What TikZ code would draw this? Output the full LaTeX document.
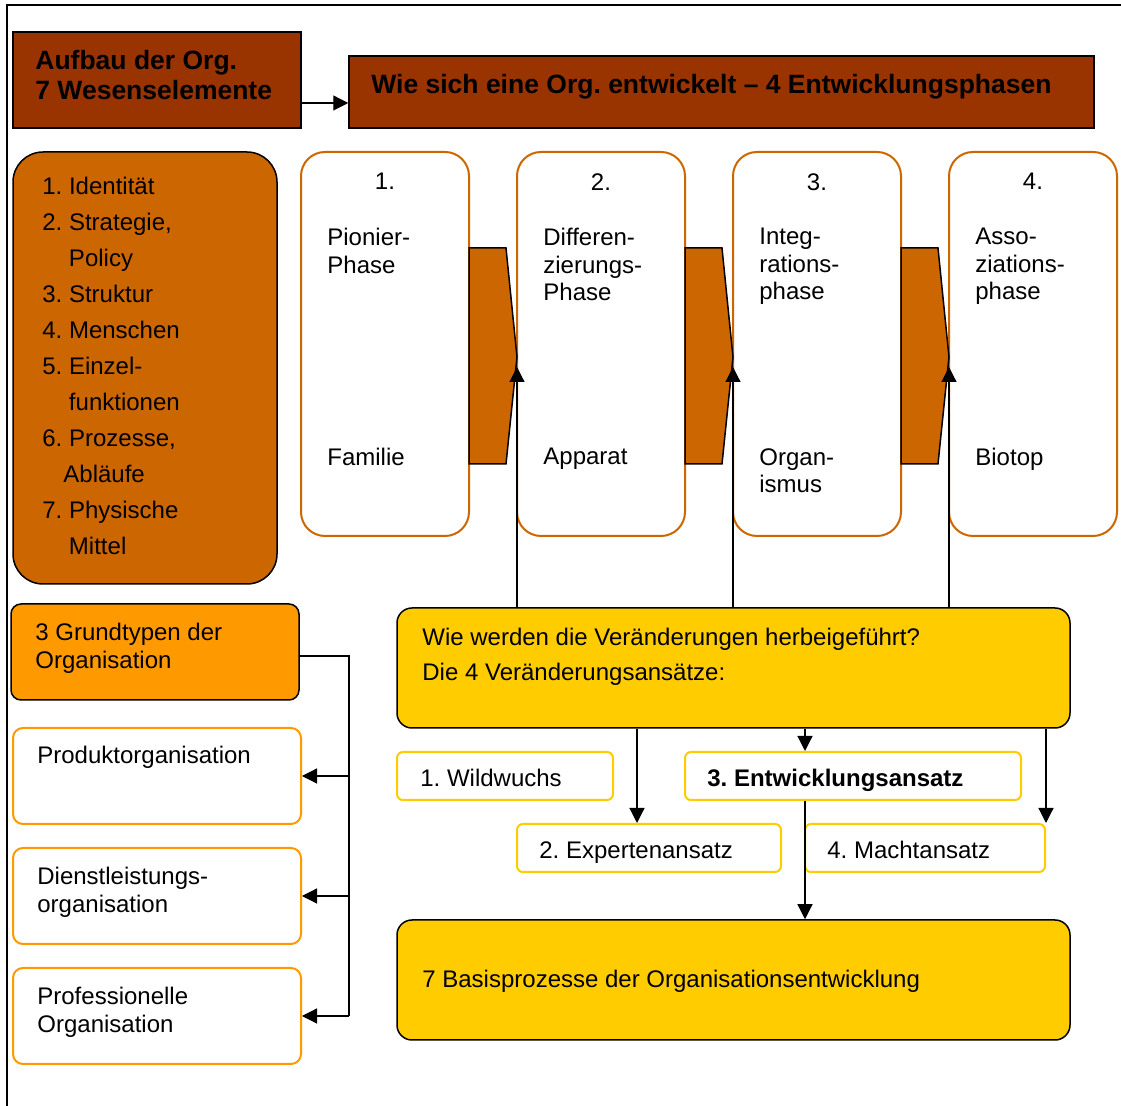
\documentclass[tikz,border=0pt]{standalone}
\usepackage{fontspec}
\setmainfont{Liberation Sans}
\usetikzlibrary{arrows.meta}
\definecolor{darkbrown}{HTML}{993300}
\definecolor{rust}{HTML}{CC6600}
\definecolor{gold}{HTML}{FFCC00}
\definecolor{amber}{HTML}{FF9900}
\newcommand\pone{301}
\newcommand\ptwo{517}
\newcommand\pthree{733}
\newcommand\pfour{949}
\frenchspacing

\begin{document}
\begin{tikzpicture}[x=0.5pt, y=-0.5pt,
    head/.style={draw=black, line width=0.75pt, fill=darkbrown, inner sep=0},
    elements/.style={draw=black, line width=0.75pt, fill=rust, rounded corners=15pt, inner sep=0},
    phase/.style={draw=rust, line width=1pt, fill=white, rounded corners=12pt, inner sep=0, minimum width=84pt, minimum height=192pt},
    chevron/.style={draw=black, line width=0.75pt, fill=rust},
    change/.style={draw=black, line width=0.75pt, fill=gold, rounded corners=7.5pt, inner sep=0, minimum width=336.5pt, minimum height=60pt},
    approach/.style={draw=gold, line width=1pt, fill=white, rounded corners=3pt, inner sep=0, minimum height=24pt},
    grundtyp/.style={draw=black, line width=0.75pt, fill=amber, rounded corners=5pt, inner sep=0, minimum width=144pt, minimum height=48pt},
    orgtype/.style={draw=amber, line width=1pt, fill=white, rounded corners=5pt, inner sep=0, minimum width=144pt, minimum height=48pt},
    txt/.style={anchor=north west, inner sep=0, align=left, font=\fontsize{12}{13.7}\selectfont},
    bigtxt/.style={anchor=north west, inner sep=0, align=left, font=\fontsize{13.25}{15}\selectfont\bfseries},
    conn/.style={draw=black, line width=0.6pt},
    arr/.style={conn, -{Triangle[length=7.5pt, width=7.5pt]}}]

    \useasboundingbox (0,0) rectangle (1121,1106);
    \draw[line width=1pt] (7,1106) -- (7,5) -- (1121,5);

    % Aufbau
    \node at (157, 80) [head, minimum width=144pt, minimum height=48pt] (aufbau) {};
    \node at (35, 49.5) [bigtxt] (aufbau_t) {Aufbau der Org.\\7 Wesenselemente};
    \node at (721.5, 92) [head, minimum width=372.5pt, minimum height=36pt] (entw) {};
    \node at (371, 73.5) [bigtxt] (entw_t) {Wie sich eine Org. entwickelt – 4 Entwicklungsphasen};

    \coordinate (ab) at (301, 103);
    \draw[arr] (ab) -- (ab -| entw.west);

    \node at (145, 368) [elements, minimum width=132pt, minimum height=216pt] (wesen) {};
    \node at (42, 177) [txt, font=\fontsize{12}{18}\selectfont] (wesen_t) {1. Identität\\2. Strategie,\\\hspace{13.3pt}Policy\\3. Struktur\\4. Menschen\\5. Einzel-\\\hspace{13.3pt}funktionen\\6. Prozesse,\\\hspace{10.5pt}Abläufe\\7. Physische\\\hspace{13.3pt}Mittel};

    % Phasen
    \node at (\pone + 84, 344) [phase] (ph1) {};
    \node at (\ptwo + 84, 344) [phase] (ph2) {};
    \node at (\pthree + 84, 344) [phase] (ph3) {};
    \node at (\pfour + 84, 344) [phase] (ph4) {};

    \node at (\pone + 84, 173) [txt, anchor=north] (n1) {1.};
    \node at (\ptwo + 84, 173) [txt, anchor=north] (n2) {2.};
    \node at (\pthree + 84, 173) [txt, anchor=north] (n3) {3.};
    \node at (\pfour + 84, 173) [txt, anchor=north] (n4) {4.};

    \node at (\pone + 26, 228) [txt] (p1) {Pionier-\\Phase};
    \node at (\ptwo + 26, 228) [txt] (p2) {Differen-\\zierungs-\\Phase};
    \node at (\pthree + 26, 228) [txt] (p3) {Integ-\\rations-\\phase};
    \node at (\pfour + 26, 228) [txt] (p4) {Asso-\\ziations-\\phase};

    \node at (\pone + 26, 448) [txt] (b1) {Familie};
    \node at (\ptwo + 26, 448) [txt] (b2) {Apparat};
    \node at (\pthree + 26, 448) [txt] (b3) {Organ-\\ismus};
    \node at (\pfour + 26, 448) [txt] (b4) {Biotop};

    \draw[chevron] (\pone + 168, 248) -- (\pone + 205, 248) -- (\ptwo, 357) -- (\pone + 205, 464) -- (\pone + 168, 464) -- cycle;
    \draw[chevron] (\ptwo + 168, 248) -- (\ptwo + 205, 248) -- (\pthree, 357) -- (\ptwo + 205, 464) -- (\ptwo + 168, 464) -- cycle;
    \draw[chevron] (\pthree + 168, 248) -- (\pthree + 205, 248) -- (\pfour, 357) -- (\pthree + 205, 464) -- (\pthree + 168, 464) -- cycle;

    % Veraenderungsansaetze
    \node at (733.5, 668) [change] (wie) {};
    \node at (422, 628) [txt, font=\fontsize{12}{17.5}\selectfont] (wie_t) {Wie werden die Veränderungen herbeigeführt?\\Die 4 Veränderungsansätze:};

    \coordinate (t2) at (\ptwo, 367);
    \coordinate (t3) at (\pthree, 367);
    \coordinate (t4) at (\pfour, 367);
    \draw[arr] (wie.north -| t2) -- (t2);
    \draw[arr] (wie.north -| t3) -- (t3);
    \draw[arr] (wie.north -| t4) -- (t4);

    \node at (505, 776) [approach, minimum width=108pt] (wild) {};
    \node at (853, 776) [approach, minimum width=168pt] (entwa) {};
    \node at (649, 848) [approach, minimum width=132pt] (exp) {};
    \node at (925, 848) [approach, minimum width=120pt] (macht) {};
    \node at (420, 769) [txt] (wild_t) {1. Wildwuchs};
    \node at (707, 769) [txt, font=\fontsize{12}{13.7}\selectfont\bfseries] (entwa_t) {3. Entwicklungsansatz};
    \node at (539, 841) [txt] (exp_t) {2. Expertenansatz};
    \node at (827, 841) [txt] (macht_t) {4. Machtansatz};

    \node at (733.5, 980) [change] (basis) {};
    \node at (422, 970) [txt] (basis_t) {7 Basisprozesse der Organisationsentwicklung};

    \coordinate (x2) at (637, 0);
    \coordinate (x3) at (805, 0);
    \draw[arr] (wie.south -| x2) -- (exp.north -| x2);
    \draw[arr] (wie.south -| x3) -- (entwa.north -| x3);
    \draw[arr] (wie.south -| macht.north east) -- (macht.north east);
    \draw[arr] (entwa.south -| x3) -- (basis.north -| x3);

    % Grundtypen
    \node at (155, 652) [grundtyp] (grund) {};
    \node at (35, 623) [txt] (grund_t) {3 Grundtypen der\\Organisation};
    \node at (157, 776) [orgtype] (prod) {};
    \node at (157, 896) [orgtype] (dienst) {};
    \node at (157, 1016) [orgtype] (prof) {};
    \node at (37, 746) [txt] (prod_t) {Produktorganisation};
    \node at (37, 867) [txt] (dienst_t) {Dienstleistungs-\\organisation};
    \node at (37, 987) [txt] (prof_t) {Professionelle\\Organisation};

    \coordinate (bus) at (349, 656);
    \draw[conn] (grund.east |- bus) -- (bus) -- (prof.east -| bus);
    \draw[arr] (prod.east -| bus) -- (prod.east);
    \draw[arr] (dienst.east -| bus) -- (dienst.east);
    \draw[arr] (prof.east -| bus) -- (prof.east);

\end{tikzpicture}
\end{document}
